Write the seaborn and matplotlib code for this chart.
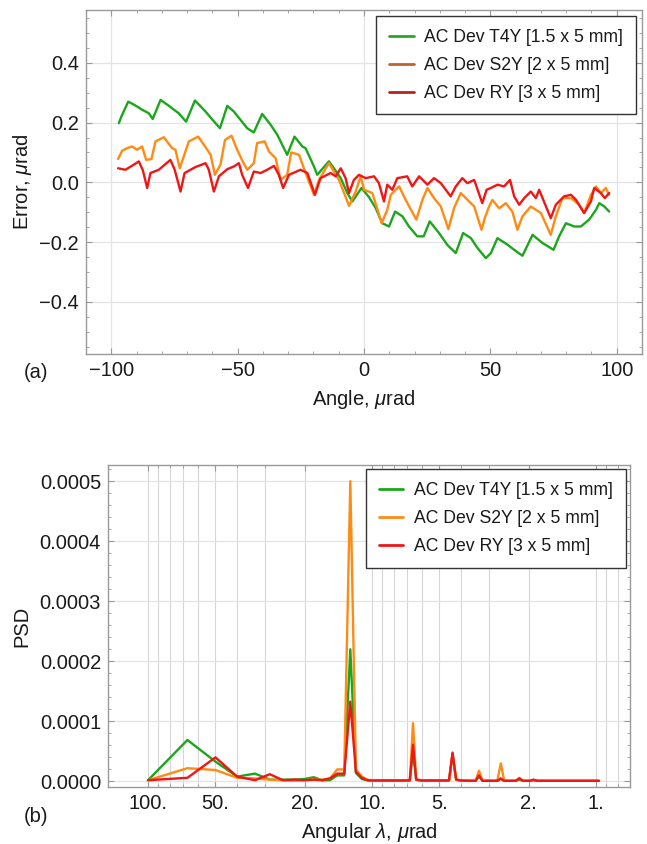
import numpy as np
import pandas as pd
import matplotlib
matplotlib.use("Agg")
import matplotlib.pyplot as plt
import seaborn as sns
from matplotlib.lines import Line2D
from matplotlib.ticker import FixedLocator, MultipleLocator, FixedFormatter, NullFormatter, LogLocator

# ---------------- data ----------------
labels = ["AC Dev T4Y [1.5 x 5 mm]", "AC Dev S2Y [2 x 5 mm]", "AC Dev RY [3 x 5 mm]"]

t4y_x = [-97, -96, -93.3, -91, -87.8, -85.1, -83.6, -80.5, -77.2, -73.3, -70.4, -66.9, -62.7, -60.1,
         -57, -54.1, -51.5, -46.2, -43.6, -40.3, -36.9, -34.3, -30.4, -27.5, -24.4, -23.1, -19.8, -18.5,
         -13.9, -11.9, -9.2, -6.6, -4.6, -1, 2, 4.6, 7.2, 9.9, 12.3, 15.2, 17.8, 21.1, 23.6, 26, 29.7,
         33, 36.3, 39.2, 42.3, 44.9, 48.2, 50.2, 52.8, 56.8, 59.4, 62.7, 66.7, 70.6, 75, 77.2, 79.9,
         83.2, 85.8, 89.1, 91.8, 93.1, 95.1, 97]
t4y_y = [0.198, 0.22, 0.27, 0.26, 0.243, 0.231, 0.212, 0.276, 0.256, 0.231, 0.203, 0.274, 0.237, 0.211,
         0.181, 0.256, 0.237, 0.181, 0.167, 0.229, 0.192, 0.159, 0.092, 0.153, 0.12, 0.114, 0.053, 0.025,
         0.07, 0.047, 0.014, -0.036, -0.064, -0.019, -0.05, -0.086, -0.137, -0.148, -0.098, -0.114, -0.148,
         -0.181, -0.181, -0.131, -0.17, -0.21, -0.237, -0.17, -0.187, -0.22, -0.254, -0.237, -0.187,
         -0.209, -0.226, -0.246, -0.176, -0.203, -0.226, -0.181, -0.137, -0.148, -0.148, -0.125, -0.092,
         -0.07, -0.081, -0.098]

s2y_x = [-97.3, -95.7, -93.5, -91.8, -89.8, -87.8, -86.2, -84.1, -82.5, -79.2, -75.9, -74.6, -72.9,
         -69.3, -65.6, -62, -60.7, -59, -56.8, -55, -52.4, -50.2, -48, -46.2, -43.6, -42.3, -39.3, -37.6,
         -35, -33, -30.4, -28.8, -25.7, -23.8, -19.8, -17.8, -13.9, -11.9, -9.9, -5.9, -3.3, -1.3, 0, 3.3,
         7, 9.2, 10.6, 12.5, 13.9, 16.5, 20.7, 23.1, 25.1, 27.7, 30.4, 33.4, 35.6, 38.3, 40.3, 43.6, 46.5,
         47.8, 49.5, 50.8, 53.5, 56.1, 58.7, 60.7, 62.7, 66, 70, 73.9, 75.9, 78.5, 81.9, 85.1, 87.1, 89.8,
         91.8, 93.7, 95.7, 97]
s2y_y = [0.078, 0.106, 0.115, 0.12, 0.109, 0.12, 0.075, 0.078, 0.137, 0.151, 0.114, 0.109, 0.047,
         0.137, 0.153, 0.109, 0.092, 0.025, 0.059, 0.142, 0.156, 0.109, 0.07, 0.042, 0.064, 0.131, 0.137,
         0.103, 0.081, 0.008, 0.025, 0.1, 0.092, 0.047, -0.042, 0.008, 0.064, 0.036, 0.008, -0.079, -0.031,
         0.02, -0.025, -0.036, -0.137, -0.092, -0.042, -0.025, -0.014, -0.059, -0.125, -0.059, -0.019,
         -0.053, -0.081, -0.157, -0.087, -0.036, -0.053, -0.081, -0.159, -0.12, -0.081, -0.059, -0.087,
         -0.07, -0.098, -0.159, -0.114, -0.081, -0.103, -0.176, -0.114, -0.053, -0.053, -0.075, -0.103,
         -0.042, -0.014, -0.036, -0.019, -0.042]

ry_x = [-97.3, -94.4, -91.1, -89.1, -87.5, -85.8, -84.5, -81.2, -76.6, -74.9, -72.6, -71, -66.7, -62.7,
        -61.4, -59.4, -57.4, -54.1, -51.5, -49.5, -48.2, -45.9, -43.6, -40.9, -38.3, -35.6, -33.7, -32,
        -29.7, -25.1, -22.4, -19.4, -17.2, -13.2, -11.2, -9.2, -7.3, -5.9, -4, -2, 0.7, 4, 5.9, 7.9, 9.2,
        11.2, 13.2, 17.1, 19.1, 21.8, 25.1, 27.7, 30.4, 34.3, 36.3, 38.9, 40.9, 43.6, 46.8, 48.5, 50.2,
        52.8, 55.4, 57.8, 59.4, 61.4, 63.4, 66, 68, 69.3, 73.9, 75.9, 79.2, 81.9, 83.9, 87.1, 89.8, 91.1,
        93.7, 95.3, 97]
ry_y = [0.047, 0.042, 0.059, 0.07, 0.04, -0.019, 0.031, 0.042, 0.075, 0.042, -0.031, 0.031, 0.051, 0.064,
        0.042, -0.031, 0.02, 0.044, 0.053, 0.064, 0.025, -0.019, 0.036, 0.031, 0.042, 0.055, 0.025, -0.019,
        0.025, 0.042, 0.031, -0.042, 0.014, 0.031, 0.02, 0.047, 0.014, -0.036, 0.008, 0.025, 0.014, 0.02,
        -0.003, -0.064, -0.008, -0.025, 0.014, 0.02, -0.014, 0.02, -0.008, 0.014, -0.003, -0.047, -0.014,
        0.014, -0.003, 0.008, -0.07, -0.025, -0.019, -0.008, -0.014, 0.008, -0.047, -0.075, -0.053,
        -0.031, -0.053, -0.025, -0.12, -0.075, -0.047, -0.042, -0.059, -0.103, -0.064, -0.019, -0.036,
        -0.053, -0.036]

# PSD vs angular wavelength
psd_lambda = [100, 66.7, 50, 40, 33.3, 28.6, 25, 22.2, 20, 18.2, 16.7, 15.4, 14.3, 13.3, 12.5, 11.8,
              11.1, 10.5, 10, 9, 8, 7.2, 6.78, 6.56, 6.35, 6, 5.5, 5, 4.6, 4.53, 4.37, 4.21, 4,
              3.6, 3.45, 3.33, 3.21, 3, 2.76, 2.66, 2.57, 2.4, 2.28, 2.2, 2.12, 2.0, 1.97, 1.9, 1.83,
              1.6, 1.3, 0.97]
psd_t4y = [0.2, 6.9, 3.3, 0.8, 1.3, 0.3, 0.3, 0.3, 0.4, 0.7, 0.2, 0.2, 1.0, 1.0, 22.0, 1.4,
           0.4, 0.2, 0.15, 0.2, 0.15, 0.15, 0.15, 5.0, 0.3, 0.15, 0.15, 0.15, 0.15, 0.15, 4.4, 0.3, 0.15,
           0.1, 0.1, 0.8, 0.1, 0.1, 0.1, 0.4, 0.1, 0.1, 0.1, 0.3, 0.1, 0.1, 0.1, 0.2, 0.1,
           0.1, 0.1, 0.1]
psd_s2y = [0.2, 2.2, 1.9, 0.6, 0.5, 0.3, 0.2, 0.1, 0.2, 0.3, 0.3, 0.5, 2.0, 2.0, 50.0, 2.0,
           0.8, 0.3, 0.15, 0.15, 0.15, 0.15, 0.2, 9.7, 0.3, 0.15, 0.15, 0.15, 0.15, 0.2, 4.6, 0.3, 0.15,
           0.1, 0.1, 1.8, 0.1, 0.1, 0.1, 3.0, 0.1, 0.1, 0.1, 0.6, 0.1, 0.1, 0.1, 0.25, 0.1,
           0.1, 0.1, 0.1]
psd_ry = [0.2, 0.6, 4.0, 0.8, 0.2, 1.2, 0.2, 0.3, 0.2, 0.3, 0.2, 0.5, 1.3, 1.3, 13.3, 1.6,
          0.6, 0.2, 0.15, 0.15, 0.15, 0.15, 0.2, 6.1, 0.3, 0.15, 0.15, 0.15, 0.15, 0.2, 4.8, 0.3, 0.15,
          0.1, 0.1, 1.0, 0.1, 0.1, 0.1, 0.5, 0.1, 0.1, 0.1, 0.5, 0.1, 0.1, 0.1, 0.3, 0.1,
          0.1, 0.1, 0.1]
psd_scale = 1e-5

# ---------------- styling ----------------
line_colors = ["#1ca61c", "#ff8a14", "#f01616"]
legend_colors_top = ["#2aa52a", "#c0632a", "#b42424"]

sns.set_theme(style="white")
plt.rcParams["font.family"] = ["Liberation Sans", "DejaVu Sans"]
plt.rcParams["mathtext.fontset"] = "custom"
plt.rcParams["mathtext.rm"] = "Liberation Sans"
plt.rcParams["mathtext.it"] = "Liberation Sans:italic"

TICK_FS = 14.5
LABEL_FS = 14.5
LEG_FS = 12.7
TXT = "#1a1a1a"
FRAME = "#9a9a9a"
GRID = "#e3e3e3"

W, H = 647, 844
fig = plt.figure(figsize=(W / 100, H / 100), dpi=100)

def rect(l, r, t, b):
    return [l / W, 1 - b / H, (r - l) / W, (b - t) / H]

ax1 = fig.add_axes(rect(86, 642, 10, 354))
ax2 = fig.add_axes(rect(108, 630, 465, 787))

LEG_KW = dict(fontsize=LEG_FS, frameon=True, fancybox=False, framealpha=1, edgecolor="#333333",
              handlelength=1.4, handletextpad=0.6, labelspacing=0.62, borderpad=0.72)

# ---------- top panel ----------
df1 = pd.concat([
    pd.DataFrame({"Angle": t4y_x, "Error": t4y_y, "series": labels[0]}),
    pd.DataFrame({"Angle": s2y_x, "Error": s2y_y, "series": labels[1]}),
    pd.DataFrame({"Angle": ry_x, "Error": ry_y, "series": labels[2]}),
], ignore_index=True)

x_grid_top = [-100, 0, 100]
for xv in x_grid_top:
    ax1.axvline(xv, color=GRID, lw=0.9, zorder=0)

sns.lineplot(data=df1, x="Angle", y="Error", hue="series", hue_order=labels,
             palette=line_colors, estimator=None, sort=False, lw=1.7, ax=ax1, legend=False)

ax1.set_xlim(-110, 110)
ax1.set_ylim(-0.575, 0.577)
ax1.xaxis.set_major_locator(FixedLocator([-100, -50, 0, 50, 100]))
ax1.xaxis.set_minor_locator(MultipleLocator(10))
ax1.yaxis.set_major_locator(FixedLocator([-0.4, -0.2, 0.0, 0.2, 0.4]))
ax1.yaxis.set_minor_locator(MultipleLocator(0.05))
ax1.yaxis.set_major_formatter(FixedFormatter(["\u22120.4", "\u22120.2", "0.0", "0.2", "0.4"]))
ax1.xaxis.set_major_formatter(FixedFormatter(["\u2212100", "\u221250", "0", "50", "100"]))
ax1.grid(axis="y", which="major", color=GRID, lw=0.9)
ax1.set_axisbelow(True)
ax1.set_xlabel("Angle, $\\mu$rad", fontsize=LABEL_FS, color=TXT, labelpad=6)
ax1.set_ylabel("Error, $\\mu$rad", fontsize=LABEL_FS, color=TXT, labelpad=4)

h1 = [Line2D([0], [0], color=c, lw=2) for c in legend_colors_top]
leg1 = ax1.legend(h1, labels, loc="upper right", borderaxespad=0.35, **LEG_KW)
leg1.get_frame().set_linewidth(1.0)
for t in leg1.get_texts():
    t.set_color(TXT)

# ---------- bottom panel ----------
df2 = pd.concat([
    pd.DataFrame({"lam": psd_lambda, "PSD": np.array(psd_t4y) * psd_scale, "series": labels[0]}),
    pd.DataFrame({"lam": psd_lambda, "PSD": np.array(psd_s2y) * psd_scale, "series": labels[1]}),
    pd.DataFrame({"lam": psd_lambda, "PSD": np.array(psd_ry) * psd_scale, "series": labels[2]}),
], ignore_index=True)

sns.lineplot(data=df2, x="lam", y="PSD", hue="series", hue_order=labels,
             palette=line_colors, estimator=None, sort=False, lw=1.7, ax=ax2, legend=False)
ax2.set_xscale("log")
ax2.set_xlim(150.9, 0.705)
ax2.set_ylim(-0.0000093, 0.000527)
ax2.xaxis.set_major_locator(FixedLocator([100, 50, 20, 10, 5, 2, 1]))
ax2.xaxis.set_major_formatter(FixedFormatter(["100.", "50.", "20.", "10.", "5.", "2.", "1."]))
ax2.xaxis.set_minor_locator(LogLocator(base=10, subs=np.arange(1, 10), numticks=20))
ax2.xaxis.set_minor_formatter(NullFormatter())
ax2.yaxis.set_major_locator(MultipleLocator(0.0001))
ax2.yaxis.set_minor_locator(MultipleLocator(0.00002))
ax2.yaxis.set_major_formatter(matplotlib.ticker.FormatStrFormatter("%.4f"))
ax2.grid(axis="x", which="both", color="#d6d6d6", lw=0.8)
ax2.grid(axis="y", which="major", color=GRID, lw=0.9)
ax2.set_axisbelow(True)
ax2.set_xlabel("Angular $\\lambda$, $\\mu$rad", fontsize=LABEL_FS, color=TXT, labelpad=6)
ax2.set_ylabel("PSD", fontsize=LABEL_FS, color=TXT, labelpad=6)

h2 = [Line2D([0], [0], color=c, lw=2) for c in line_colors]
leg2 = ax2.legend(h2, labels, loc="upper right", borderaxespad=0.25, **LEG_KW)
leg2.get_frame().set_linewidth(1.0)
for t in leg2.get_texts():
    t.set_color(TXT)

for ax in (ax1, ax2):
    for s in ax.spines.values():
        s.set_color(FRAME)
        s.set_linewidth(1.0)
        s.set_visible(True)
    ax.tick_params(which="both", direction="in", top=True, right=True, bottom=True, left=True,
                   color=FRAME, labelcolor=TXT, labelsize=TICK_FS)
    ax.tick_params(which="major", length=4.5, width=0.8, pad=5)
    ax.tick_params(which="minor", length=2.5, width=0.6)

fig.text(36 / W, 1 - 372 / H, "(a)", fontsize=LABEL_FS, color=TXT, ha="center", va="center")
fig.text(36 / W, 1 - 816 / H, "(b)", fontsize=LABEL_FS, color=TXT, ha="center", va="center")

fig.savefig("out.png", dpi=100)
